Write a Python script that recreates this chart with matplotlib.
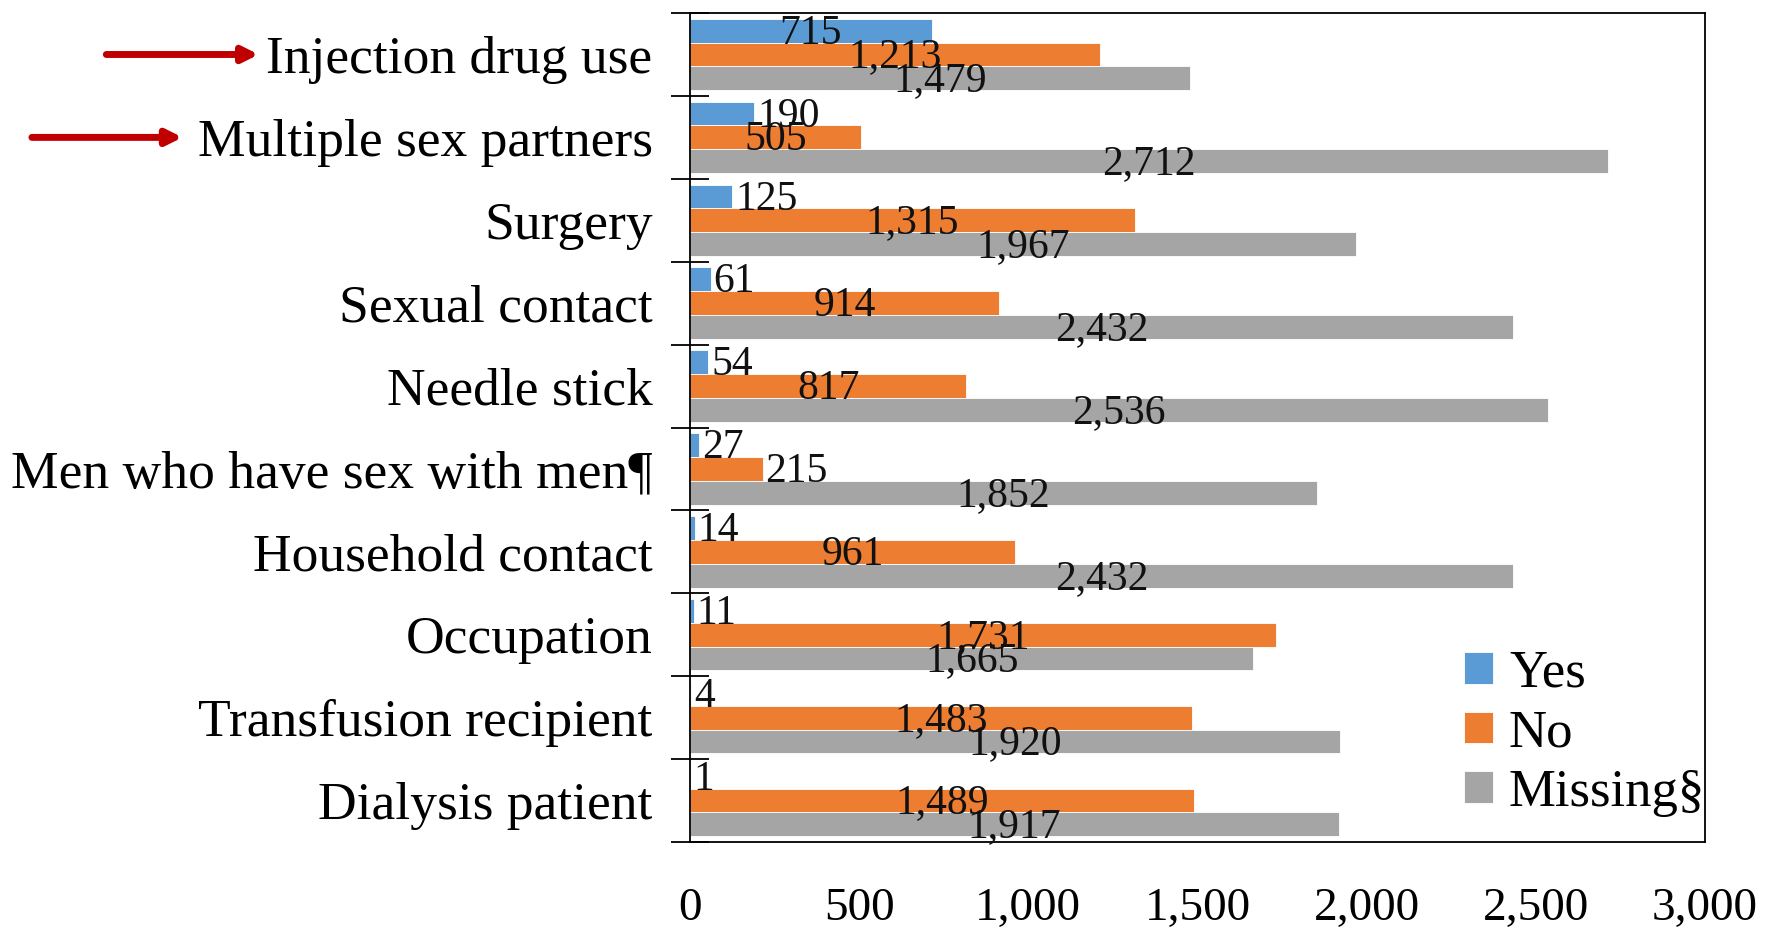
import numpy as np
import matplotlib
matplotlib.use("Agg")
import matplotlib.pyplot as plt
from matplotlib.ticker import FixedLocator, FuncFormatter

plt.rcParams['font.family'] = ['Liberation Serif', 'DejaVu Serif']

categories = ["Injection drug use", "Multiple sex partners", "Surgery", "Sexual contact",
              "Needle stick", "Men who have sex with men¶", "Household contact",
              "Occupation", "Transfusion recipient", "Dialysis patient"]
yes_vals = [715, 190, 125, 61, 54, 27, 14, 11, 4, 1]
no_vals = [1213, 505, 1315, 914, 817, 215, 961, 1731, 1483, 1489]
missing_vals = [1479, 2712, 1967, 2432, 2536, 1852, 2432, 1665, 1920, 1917]
series_names = ["Yes", "No", "Missing§"]
colors = ["#5B9BD5", "#ED7D31", "#A5A5A5"]
x_ticks = [0, 500, 1000, 1500, 2000, 2500, 3000]
arrow_cats = ["Injection drug use", "Multiple sex partners"]

fig = plt.figure(figsize=(17.72, 9.32), dpi=100)
ax = fig.add_axes([0.3894, 0.0966, 0.5728, 0.8894])

y = np.arange(len(categories))
h = 0.287
for k, (vals, name, col) in enumerate(zip([yes_vals, no_vals, missing_vals], series_names, colors)):
    pos = y + (k - 1) * h
    ax.barh(pos, vals, height=h, color=col, edgecolor='white', linewidth=0.6, label=name)
    for p, v in zip(pos, vals):
        txt = f"{v:,}"
        # small bars get the label outside the end, the rest centred
        if v < 300:
            ax.annotate(txt, (v, p), xytext=(2, -2), textcoords='offset points',
                        ha='left', va='center', fontsize=30, color='#111111')
        else:
            ax.annotate(txt, (v / 2, p), xytext=(0, -2), textcoords='offset points',
                        ha='center', va='center', fontsize=30, color='#111111')

ax.set_xlim(0, 3000)
ax.set_ylim(len(categories) - 0.5, -0.5)
ax.set_yticks(y)
ax.set_yticklabels(categories, fontsize=38.5)
ax.yaxis.set_minor_locator(FixedLocator(np.arange(len(categories) + 1) - 0.5))
ax.tick_params(axis='y', which='major', length=0, pad=27)
ax.tick_params(axis='y', which='minor', length=28, direction='inout', width=1.3)
ax.set_xticks(x_ticks)
ax.xaxis.set_major_formatter(FuncFormatter(lambda v, _: f"{int(v):,}"))
ax.tick_params(axis='x', length=0, pad=33, labelsize=34)
for s in ax.spines.values():
    s.set_linewidth(1.3)
    s.set_color('black')

leg = ax.legend(loc='lower right', frameon=False, fontsize=38, handlelength=0.55,
                handleheight=0.55, handletextpad=0.3, labelspacing=0.22,
                borderaxespad=0.0, bbox_to_anchor=(1.021, 0.005))

for cat, x0, x1 in zip(arrow_cats, [0.060, 0.018], [0.146, 0.103]):
    yi = categories.index(cat)
    ax.annotate("", xy=(x1, yi), xytext=(x0, yi),
                xycoords=('figure fraction', 'data'), textcoords=('figure fraction', 'data'),
                arrowprops=dict(arrowstyle='-|>,head_length=0.9,head_width=0.45',
                                color='#C00000', lw=5, shrinkA=0, shrinkB=0),
                annotation_clip=False)

fig.savefig("out.png", dpi=100)
